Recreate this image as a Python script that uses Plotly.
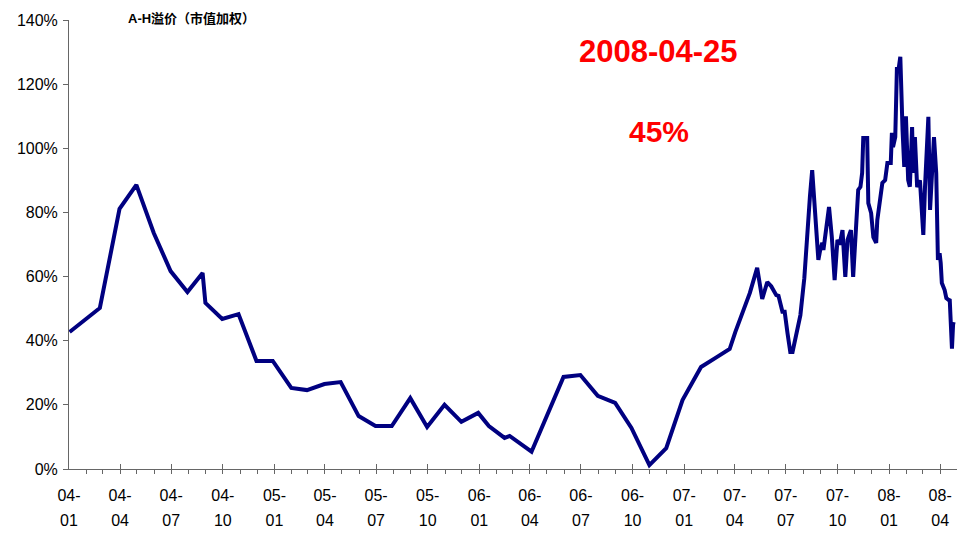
import plotly.graph_objects as go

# A-H premium (market-cap weighted), in percent
dates = [
    "2004-01-02", "2004-02-25", "2004-03-31", "2004-04-30", "2004-05-31",
    "2004-06-30", "2004-07-30", "2004-08-26", "2004-08-31", "2004-09-30",
    "2004-10-29", "2004-11-30", "2004-12-29", "2005-01-31", "2005-02-28",
    "2005-03-31", "2005-04-29", "2005-05-31", "2005-06-30", "2005-07-29",
    "2005-08-31", "2005-09-30", "2005-10-31", "2005-11-30", "2005-12-30",
    "2006-01-18", "2006-02-15", "2006-02-24", "2006-04-04", "2006-05-31",
    "2006-06-30", "2006-07-31", "2006-08-31", "2006-09-29", "2006-10-31",
    "2006-11-30", "2006-12-29", "2007-01-31", "2007-02-28", "2007-03-23",
    "2007-04-02", "2007-04-28", "2007-05-11", "2007-05-20", "2007-05-29",
    "2007-06-05", "2007-06-14", "2007-06-18", "2007-06-25", "2007-06-29",
    "2007-07-04", "2007-07-09", "2007-07-13", "2007-07-27", "2007-08-03",
    "2007-08-08", "2007-08-13", "2007-08-17", "2007-08-22", "2007-08-28",
    "2007-08-31", "2007-09-04", "2007-09-06", "2007-09-11", "2007-09-16",
    "2007-09-21", "2007-09-26", "2007-10-01", "2007-10-05", "2007-10-10",
    "2007-10-15", "2007-10-19", "2007-10-25", "2007-10-29", "2007-11-02",
    "2007-11-07", "2007-11-11", "2007-11-14", "2007-11-16", "2007-11-23",
    "2007-11-25", "2007-11-30", "2007-12-04", "2007-12-09", "2007-12-11",
    "2007-12-15", "2007-12-20", "2007-12-25", "2007-12-29", "2008-01-04",
    "2008-01-06", "2008-01-08", "2008-01-12", "2008-01-15", "2008-01-17",
    "2008-01-21", "2008-01-23", "2008-01-25", "2008-01-28", "2008-01-31",
    "2008-02-04", "2008-02-07", "2008-02-11", "2008-02-13", "2008-02-16",
    "2008-02-20", "2008-02-25", "2008-02-28", "2008-03-02", "2008-03-05",
    "2008-03-11", "2008-03-14", "2008-03-18", "2008-03-21", "2008-03-25",
    "2008-03-27", "2008-03-28", "2008-03-31", "2008-04-02", "2008-04-04",
    "2008-04-09", "2008-04-12", "2008-04-16", "2008-04-18", "2008-04-22",
    "2008-04-24", "2008-04-25",
]
premium = [
    42.7, 50.2, 81.1, 88.6, 73.6,
    61.7, 55.2, 61.1, 51.8, 46.8,
    48.3, 33.7, 33.7, 25.3, 24.6,
    26.5, 27.1, 16.5, 13.4, 13.4,
    22.1, 13.1, 20.0, 14.7, 17.5,
    13.4, 9.7, 10.3, 5.4, 28.7,
    29.3, 22.8, 20.6, 12.8, 1.2,
    6.5, 21.5, 31.8, 34.9, 37.4,
    42.7, 54.9, 62.7, 53.0, 58.3,
    57.0, 54.2, 54.0, 49.0, 49.0,
    42.4, 36.5, 36.5, 48.0, 59.5,
    73.6, 85.0, 93.2, 78.6, 65.2,
    68.0, 70.5, 68.3, 74.5, 81.7,
    72.3, 58.9, 71.4, 70.0, 74.5,
    59.9, 71.4, 74.5, 59.9, 72.3,
    87.0, 88.0, 92.3, 103.2, 103.2,
    82.9, 79.8, 72.3, 70.5, 77.6,
    82.9, 89.2, 90.1, 95.4, 95.4,
    104.8, 100.4, 103.5, 125.3, 123.5,
    128.5, 111.0, 105.7, 94.2, 110.0,
    90.1, 88.0, 106.6, 92.3, 103.5,
    87.9, 90.0, 78.6, 73.0, 87.9,
    109.8, 80.8, 93.2, 103.5, 92.3,
    74.5, 65.2, 67.3, 64.2, 58.0,
    55.8, 53.3, 52.7, 53.0, 37.5,
    45.0, 45.8,
]

tick_dates = [
    "2004-01-01", "2004-04-01", "2004-07-01", "2004-10-01",
    "2005-01-01", "2005-04-01", "2005-07-01", "2005-10-01",
    "2006-01-01", "2006-04-01", "2006-07-01", "2006-10-01",
    "2007-01-01", "2007-04-01", "2007-07-01", "2007-10-01",
    "2008-01-01", "2008-04-01",
]
tick_labels = [
    "04-01", "04-04", "04-07", "04-10", "05-01", "05-04", "05-07", "05-10",
    "06-01", "06-04", "06-07", "06-10", "07-01", "07-04", "07-07", "07-10",
    "08-01", "08-04",
]
y_ticks = [0, 20, 40, 60, 80, 100, 120, 140]
y_labels = ["0%", "20%", "40%", "60%", "80%", "100%", "120%", "140%"]

title_text = "A-H溢价（市值加权）"
last_date_text = "2008-04-25"
last_value_text = "45%"

FONT = "Arial, 'Liberation Sans', sans-serif"
CJK = "Arial, 'Liberation Sans', 'Noto Sans CJK SC', sans-serif"

ticktext = [
    '<span style="font-size:16px">%s-<br>%s</span>' % (t[:2], t[3:])
    for t in tick_labels
]

fig = go.Figure(
    data=[
        go.Scatter(
            x=dates,
            y=premium,
            mode="lines",
            line=dict(color="#000080", width=4),
            showlegend=False,
        )
    ]
)

# page body adds an 8px offset, so the figure is sized to fit the window
fig.update_layout(
    width=959,
    height=526,
    margin=dict(l=61, r=10, t=12, b=65),
    paper_bgcolor="white",
    plot_bgcolor="white",
    font=dict(family=FONT, color="black"),
    xaxis=dict(
        type="date",
        range=["2004-01-01", "2008-05-01"],
        automargin=False,
        tickmode="array",
        tickvals=tick_dates,
        ticktext=ticktext,
        tickangle=0,
        tickfont=dict(size=19.2, color="black"),
        ticklabelstandoff=8,
        ticks="inside",
        ticklen=5,
        tickcolor="#666",
        showline=True,
        linecolor="#666",
        linewidth=1,
        showgrid=False,
        zeroline=False,
        minor=dict(dtick="M1", tick0="2004-01-01", ticks="outside",
                   ticklen=4, tickcolor="#666", showgrid=False),
    ),
    yaxis=dict(
        range=[0, 140],
        automargin=False,
        tickmode="array",
        tickvals=y_ticks,
        ticktext=y_labels,
        tickfont=dict(size=16, color="black"),
        ticklabelstandoff=2,
        ticks="outside",
        ticklen=5,
        tickcolor="#666",
        showline=True,
        linecolor="#666",
        linewidth=1,
        showgrid=False,
        zeroline=False,
    ),
    annotations=[
        dict(text="<b>%s</b>" % title_text, xref="paper", yref="paper",
             x=0.064, y=1.0, xanchor="left", yanchor="middle", yshift=2,
             showarrow=False, font=dict(family=CJK, size=13, color="black")),
        dict(text="<b>%s</b>" % last_date_text, xref="paper", yref="paper",
             x=0.664, y=0.929, xanchor="center", yanchor="middle",
             showarrow=False, font=dict(family=FONT, size=31, color="#FF0000")),
        dict(text="<b>%s</b>" % last_value_text, xref="paper", yref="paper",
             x=0.664, y=0.752, xanchor="center", yanchor="middle",
             showarrow=False, font=dict(family=FONT, size=30, color="#FF0000")),
    ],
)

fig.write_html("out.html")
